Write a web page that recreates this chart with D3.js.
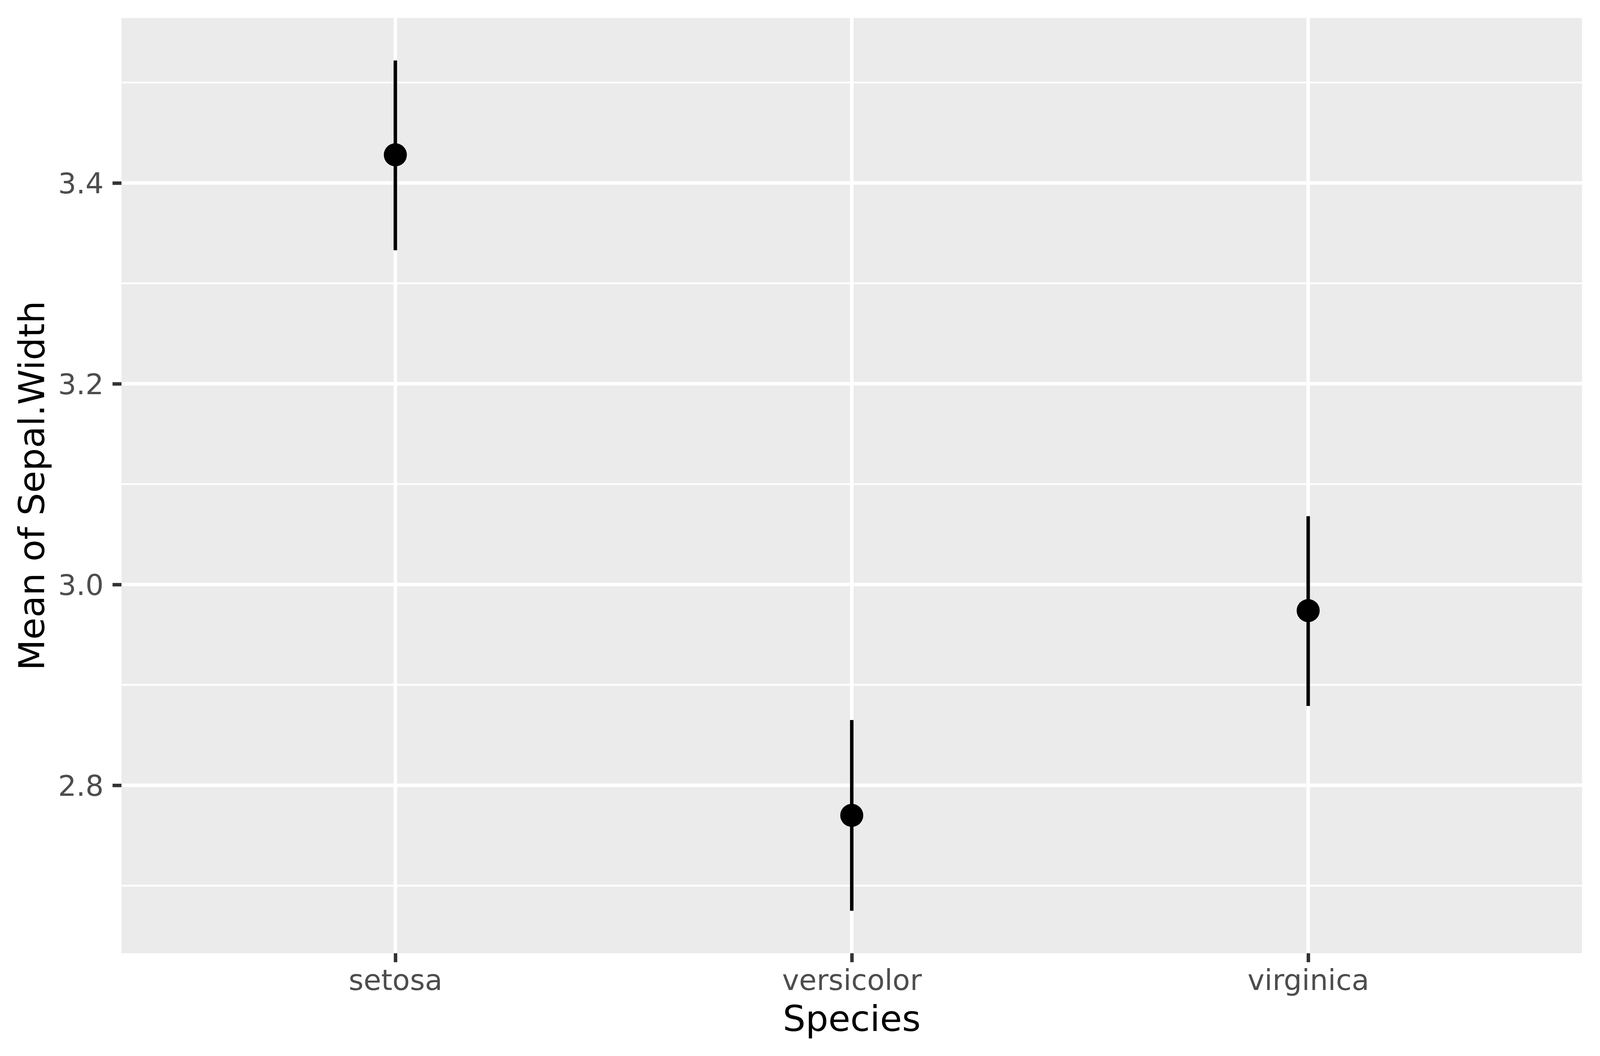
<!DOCTYPE html>
<html>
<head>
<meta charset="utf-8">
<script src="https://cdn.jsdelivr.net/npm/d3@7"></script>
<style>
  html, body { margin: 0; padding: 0; background: #fff; overflow: hidden; }
  svg { display: block; font-family: "DejaVu Sans", sans-serif; }
</style>
</head>
<body>
<div id="chart"></div>
<script>
// data
const species = ["setosa", "versicolor", "virginica"]
const means = [3.428, 2.770, 2.974]
const lower = [3.333, 2.675, 2.879]
const upper = [3.522, 2.865, 3.068]

const majorTicks = [2.8, 3.0, 3.2, 3.4]
const majorTickLabels = ["2.8", "3.0", "3.2", "3.4"]
const minorTicks = [2.7, 2.9, 3.1, 3.3, 3.5]

// the window may be narrower than asked for, so fit the page to it
const WIDTH = window.innerWidth || 4375
const HEIGHT = window.innerHeight || 2703
const margin = { top: 46, right: 46, bottom: 263, left: 311 }

const lineW = 8.9 // 0.5 mm line at 600 dpi
const tickLen = 22.9

const drawChart = () => {
  const rows = species.map((s, i) => ({
    species: s, mean: means[i], lo: lower[i], hi: upper[i]
  }))

  const svg = d3
    .select("#chart")
    .append("svg")
      .attr("width", WIDTH)
      .attr("height", HEIGHT)

  svg.append("rect")
    .attr("width", WIDTH)
    .attr("height", HEIGHT)
    .attr("fill", "#fff")

  const x = d3
    .scalePoint()
    .domain(species)
    .range([margin.left, WIDTH - margin.right])
    .padding(0.6)

  // ggplot style 5% expansion of the data range
  const lo = d3.min(lower)
  const hi = d3.max(upper)
  const pad = (hi - lo) * 0.05
  const y = d3
    .scaleLinear()
    .domain([lo - pad, hi + pad])
    .range([HEIGHT - margin.bottom, margin.top])

  const [x0, x1] = x.range()
  const [y0, y1] = y.range()

  // panel
  svg.append("rect")
    .attr("x", x0)
    .attr("y", y1)
    .attr("width", x1 - x0)
    .attr("height", y0 - y1)
    .attr("fill", "#EBEBEB")

  const grid = svg.append("g").attr("stroke", "#fff").attr("fill", "none")

  grid.selectAll("line.minor")
    .data(minorTicks)
    .join("line")
      .attr("class", "minor")
      .attr("x1", x0)
      .attr("x2", x1)
      .attr("y1", (d) => y(d))
      .attr("y2", (d) => y(d))
      .attr("stroke-width", lineW / 2)

  grid.selectAll("line.major")
    .data(majorTicks)
    .join("line")
      .attr("class", "major")
      .attr("x1", x0)
      .attr("x2", x1)
      .attr("y1", (d) => y(d))
      .attr("y2", (d) => y(d))
      .attr("stroke-width", lineW)

  grid.selectAll("line.vert")
    .data(species)
    .join("line")
      .attr("class", "vert")
      .attr("x1", (d) => x(d))
      .attr("x2", (d) => x(d))
      .attr("y1", y1)
      .attr("y2", y0)
      .attr("stroke-width", lineW)

  // point ranges
  const marks = svg.append("g")

  marks.selectAll("line")
    .data(rows)
    .join("line")
      .attr("x1", (d) => x(d.species))
      .attr("x2", (d) => x(d.species))
      .attr("y1", (d) => y(d.lo))
      .attr("y2", (d) => y(d.hi))
      .attr("stroke", "#000")
      .attr("stroke-width", lineW)

  marks.selectAll("circle")
    .data(rows)
    .join("circle")
      .attr("cx", (d) => x(d.species))
      .attr("cy", (d) => y(d.mean))
      .attr("r", 29.5)
      .attr("fill", "#000")

  // axes
  const styleAxis = (g) => {
    g.select(".domain").remove()
    g.selectAll(".tick line")
      .attr("stroke", "#333333")
      .attr("stroke-width", lineW)
    g.selectAll(".tick text")
      .attr("fill", "#4D4D4D")
      .attr("font-size", 73.3)
      .attr("font-family", "DejaVu Sans")
  }

  svg.append("g")
    .attr("transform", `translate(0,${y0})`)
    .call(
      d3.axisBottom(x)
        .tickSize(tickLen)
        .tickPadding(19)
    )
    .call(styleAxis)

  svg.append("g")
    .attr("transform", `translate(${x0},0)`)
    .call(
      d3.axisLeft(y)
        .tickValues(majorTicks)
        .tickFormat((d, i) => majorTickLabels[i])
        .tickSize(tickLen)
        .tickPadding(22.8)
    )
    .call(styleAxis)
    .call((g) => g.selectAll(".tick text").attr("dy", "0.36em"))

  // titles
  svg.append("text")
    .attr("x", (x0 + x1) / 2)
    .attr("y", y0 + 199)
    .attr("text-anchor", "middle")
    .attr("font-size", 91.7)
    .attr("fill", "#000")
    .text("Species")

  svg.append("text")
    .attr("transform", `translate(113,${(y0 + y1) / 2}) rotate(-90)`)
    .attr("text-anchor", "middle")
    .attr("font-size", 91.7)
    .attr("fill", "#000")
    .text("Mean of Sepal.Width")
}

drawChart()
</script>
</body>
</html>
